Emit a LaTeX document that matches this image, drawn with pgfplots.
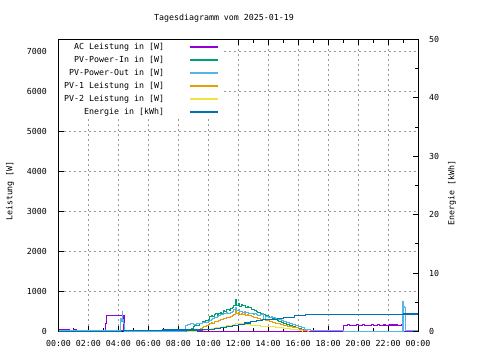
\documentclass[border=0pt]{standalone}
\usepackage{fontspec}
\setmainfont{DejaVu Sans Mono}
\usepackage{pgfplots}
\pgfplotsset{compat=1.18}
\definecolor{cAC}{HTML}{9400D3}
\definecolor{cIn}{HTML}{009E73}
\definecolor{cOut}{HTML}{56B4E9}
\definecolor{cP1}{HTML}{E69F00}
\definecolor{cP2}{HTML}{F0E442}
\definecolor{cE}{HTML}{0072B2}
\newcommand{\gfont}{\fontsize{8.3bp}{10bp}\selectfont}
\begin{document}
\begin{tikzpicture}
\path[use as bounding box] (0,0) rectangle (480bp,360bp);
\begin{axis}[
  at={(58.5bp,28.5bp)}, anchor=south west, scale only axis,
  width=359.5bp, height=292bp,
  xmin=0, xmax=24, ymin=0, ymax=7300,
  xtick={0,2,...,24},
  xticklabels={00:00,02:00,04:00,06:00,08:00,10:00,12:00,14:00,16:00,18:00,20:00,22:00,00:00},
  minor x tick num=1,
  ytick={0,1000,...,7000},
  ytick pos=left, xtick pos=both, xticklabel pos=lower,
  tick align=inside, major tick length=5bp, minor tick length=3bp,
  grid=major,
  major grid style={gray!80, line width=0.8bp, dash pattern=on 2bp off 3bp},
  axis line style={line width=0.9bp},
  tick style={black, line width=0.9bp},
  /pgf/number format/assume math mode=true,
  /pgf/number format/1000 sep={},
  tick label style={font=\gfont},
  yticklabel style={inner sep=0pt, xshift=-11.5bp},
  xticklabel style={inner sep=0pt, yshift=-9bp},
  legend plot pos=right,
  legend cell align=right,
  legend image code/.code={\draw[#1, line width=1.2bp] (0bp,0bp) -- (28bp,0bp);},
  legend style={draw=none, fill=white, font=\gfont,
    at={(0,1)}, anchor=north west,
    inner xsep=5.5bp, inner ysep=3.5bp,
    row sep=5.5bp, column sep=25bp,
    nodes={inner sep=0pt, text height=6bp, text depth=1.5bp}},
  every axis plot/.append style={line width=1.1bp, const plot},
]
\addplot[cAC] coordinates {
(0,50) (0.45,0) (0.55,50) (0.75,0) (1.0,50) (1.17,0) (3.1,0) (3.15,200) (3.2,390) (4.37,0)
(18.98,0) (19.0,150) (19.1,160) (19.2,140) (19.3,165) (19.4,150) (19.5,155) (19.6,140) (19.7,160)
(19.8,150) (19.9,165) (20.0,145) (20.1,160) (20.2,150) (20.3,165) (20.4,145) (20.5,155) (20.6,140)
(20.7,160) (20.8,150) (20.9,165) (21.0,145) (21.1,160) (21.2,150) (21.3,170) (21.4,145) (21.5,160)
(21.6,150) (21.7,165) (21.8,140) (21.9,160) (22.0,150) (22.1,170) (22.2,145) (22.3,165) (22.4,150)
(22.5,170) (22.6,145) (22.7,160) (22.8,150) (22.9,165) (23.0,0) (24,0)};
\addlegendentry{AC Leistung in [W]}
\addplot[cIn] coordinates {
(8.5,0) (8.7,20) (8.8,40) (8.9,80) (9.0,120) (9.1,140) (9.2,160) (9.3,150) (9.4,200) (9.5,190)
(9.6,260) (9.7,240) (9.8,280) (9.9,270) (10.0,300) (10.1,380) (10.2,400) (10.3,370) (10.4,420)
(10.5,440) (10.6,410) (10.7,460) (10.8,480) (10.9,450) (11.0,520) (11.1,500) (11.2,540)
(11.3,560) (11.4,530) (11.5,580) (11.6,600) (11.7,640) (11.8,800) (11.85,690) (11.9,650)
(12.0,700) (12.1,620) (12.2,680) (12.3,640) (12.4,660) (12.5,610) (12.6,630) (12.7,590)
(12.8,600) (12.9,560) (13.0,550) (13.1,520) (13.2,510) (13.3,480) (13.4,470) (13.5,450)
(13.6,440) (13.7,420) (13.8,410) (13.9,390) (14.0,380) (14.1,360) (14.2,350) (14.3,320)
(14.4,310) (14.5,300) (14.6,280) (14.7,260) (14.8,250) (14.9,230) (15.0,210) (15.2,180)
(15.4,150) (15.6,120) (15.8,100) (16.0,80) (16.2,50) (16.4,30) (16.6,10) (16.7,0)};
\addlegendentry{PV-Power-In in [W]}
\addplot[cOut] coordinates {
(0,20) (4.1,20) (4.15,330) (4.2,250) (4.25,490) (4.3,300) (4.35,200) (4.4,0) (8.4,0)
(8.45,150) (8.6,180) (8.8,200) (9.0,170) (9.2,210) (9.4,190) (9.6,230) (9.8,220) (10.0,260)
(10.1,280) (10.2,300) (10.3,320) (10.4,340) (10.5,360) (10.6,380) (10.7,400) (10.8,420)
(10.9,430) (11.0,450) (11.1,440) (11.2,470) (11.3,460) (11.4,440) (11.5,480) (11.6,510)
(11.7,540) (11.8,600) (11.9,520) (12.0,560) (12.1,500) (12.2,510) (12.3,480) (12.4,490)
(12.5,470) (12.6,480) (12.7,450) (12.8,460) (12.9,440) (13.0,430) (13.1,440) (13.2,420)
(13.3,410) (13.4,400) (13.5,420) (13.6,440) (13.7,310) (13.8,380) (13.9,370) (14.0,360)
(14.1,350) (14.2,380) (14.3,350) (14.4,340) (14.5,320) (14.6,310) (14.7,300) (14.8,290)
(14.9,270) (15.0,260) (15.2,230) (15.4,205) (15.6,180) (15.8,150) (16.0,120) (16.2,90)
(16.4,60) (16.6,40) (16.8,25) (17.0,15) (19.0,15) (19.02,0) (22.98,0) (23.0,760)
(23.05,620) (23.1,600) (23.15,20) (24,20)};
\addlegendentry{PV-Power-Out in [W]}
\addplot[cP1] coordinates {
(8.8,0) (9.0,20) (9.1,30) (9.2,40) (9.3,50) (9.4,60) (9.5,80) (9.6,100) (9.7,120) (9.8,130)
(9.9,150) (10.0,170) (10.1,200) (10.2,220) (10.3,210) (10.4,240) (10.5,260) (10.6,250)
(10.7,280) (10.8,300) (10.9,290) (11.0,330) (11.1,320) (11.2,350) (11.3,360) (11.4,350)
(11.5,380) (11.6,400) (11.7,420) (11.8,520) (11.85,470) (11.9,450) (12.0,480) (12.1,430)
(12.2,460) (12.3,420) (12.4,440) (12.5,410) (12.6,420) (12.7,390) (12.8,390) (12.9,370)
(13.0,360) (13.1,350) (13.2,340) (13.3,330) (13.4,320) (13.5,310) (13.6,300) (13.7,290)
(13.8,285) (13.9,275) (14.0,270) (14.1,250) (14.2,240) (14.3,230) (14.4,215) (14.5,205)
(14.6,200) (14.8,180) (15.0,160) (15.3,130) (15.6,100) (16.0,60) (16.3,30) (16.6,10) (16.7,0)};
\addlegendentry{PV-1 Leistung in [W]}
\addplot[cP2] coordinates {
(8.6,0) (8.9,10) (9.2,20) (9.5,30) (9.8,45) (10.0,60) (10.2,70) (10.5,90) (10.8,110) (11.0,120)
(11.2,140) (11.5,160) (11.7,180) (11.8,200) (12.0,210) (12.15,195) (12.3,200) (12.45,180)
(12.6,170) (12.8,160) (13.0,150) (13.2,140) (13.5,130) (14.0,120) (14.5,100) (15.0,80)
(15.5,50) (16.0,20) (16.3,0)};
\addlegendentry{PV-2 Leistung in [W]}
\addlegendimage{cE}
\addlegendentry{Energie in [kWh]}
\end{axis}
\begin{axis}[
  at={(58.5bp,28.5bp)}, anchor=south west, scale only axis,
  width=359.5bp, height=292bp,
  xmin=0, xmax=24, ymin=0, ymax=50,
  axis x line=none, axis y line*=right,
  ytick={0,10,...,50}, minor y tick num=1,
  tick align=inside, major tick length=5bp, minor tick length=3bp,
  axis line style={line width=0.9bp},
  tick style={black, line width=0.9bp},
  /pgf/number format/assume math mode=true,
  tick label style={font=\gfont},
  yticklabel style={inner sep=0pt, xshift=11bp},
]
\addplot[cE, const plot, line width=1.1bp] coordinates {
(0,0) (4.2,0.1) (6.95,0.25) (9.6,0.3) (10.0,0.4) (10.4,0.5) (10.8,0.65) (11.2,0.85)
(11.6,1.05) (12.0,1.25) (12.4,1.45) (12.8,1.65) (13.2,1.85) (13.6,2.0) (14.0,2.1)
(14.6,2.25) (15.0,2.4) (15.77,2.7) (16.5,2.9) (23.03,3.0) (24,3.0)};
\end{axis}
\node[font=\gfont] at (224bp,342bp) {Tagesdiagramm vom 2025-01-19};
\node[font=\gfont, rotate=90] at (10bp,169bp) {Leistung [W]};
\node[font=\gfont, rotate=90] at (452bp,167bp) {Energie [kWh]};
\end{tikzpicture}
\end{document}
